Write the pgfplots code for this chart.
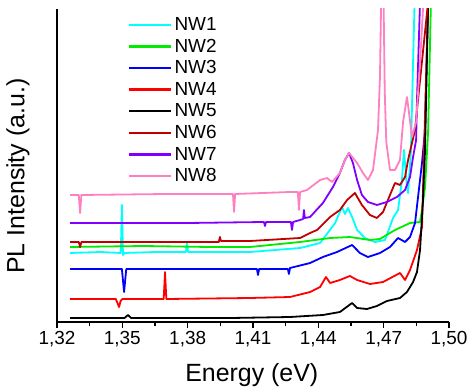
\documentclass[border=0pt]{standalone}
\usepackage{fontspec}
\setmainfont{Liberation Sans}
\usepackage{pgfplots}
\pgfplotsset{compat=1.18}
\definecolor{nwone}{RGB}{0,255,255}
\definecolor{nwtwo}{RGB}{0,235,0}
\definecolor{nwthree}{RGB}{0,0,255}
\definecolor{nwfour}{RGB}{255,0,0}
\definecolor{nwfive}{RGB}{0,0,0}
\definecolor{nwsix}{RGB}{192,0,0}
\definecolor{nwseven}{RGB}{128,0,255}
\definecolor{nweight}{RGB}{255,128,192}
\begin{document}
\begin{tikzpicture}
\path[use as bounding box] (-57bp,-70bp) rectangle (414bp,322bp);
\begin{axis}[
  at={(0,0)}, anchor=south west,
  scale only axis, width=392bp, height=313bp,
  xmin=1.32, xmax=1.50, ymin=0, ymax=313,
  axis x line*=bottom, axis y line*=left,
  axis line style={-, line width=1.6bp},
  ytick=\empty,
  xtick={1.32,1.35,1.38,1.41,1.44,1.47,1.50},
  xticklabels={{1,32},{1,35},{1,38},{1,41},{1,44},{1,47},{1,50}},
  minor xtick={1.335,1.365,1.395,1.425,1.455,1.485},
  tick align=outside, major tick length=6bp, minor tick length=3.5bp,
  every tick/.style={black, line width=1.2bp},
  xticklabel style={font=\fontsize{19}{19}\selectfont},
  xlabel={Energy (eV)},
  xlabel style={font=\fontsize{25}{25}\selectfont, at={(axis description cs:0.497,-0.169)}, anchor=center},
  ylabel={PL Intensity (a.u.)},
  ylabel style={font=\fontsize{25}{25}\selectfont, at={(axis description cs:-0.0995,0.466)}, anchor=center},
  every axis plot/.append style={line width=1.8bp, line join=round},
  legend style={draw=none, fill=none, at={(axis description cs:0.181,0.980)}, anchor=north west,
    font=\fontsize{19}{19}\selectfont, row sep=3bp, inner sep=0pt},
  legend cell align=left,
  legend image code/.code={\draw[#1, line width=2.4bp] (0bp,0bp) -- (42bp,0bp);},
]
% NW1
\addplot[nwone] coordinates {
(1.3260,69) (1.3400,70) (1.3493,69) (1.3498,117) (1.3503,67) (1.3510,69) (1.3650,70)
(1.3792,70) (1.3797,79) (1.3802,70) (1.4086,70) (1.4316,74) (1.4408,79) (1.4477,99)
(1.4509,115) (1.4522,108) (1.4536,114) (1.4555,105) (1.4578,92) (1.4614,84) (1.4660,80)
(1.4706,82) (1.4743,104) (1.4766,112) (1.4784,142) (1.4793,172) (1.4807,135) (1.4812,129)
(1.4825,170) (1.4835,260) (1.4842,320)};
% NW2
\addplot[nwtwo] coordinates {
(1.3260,75) (1.3600,76) (1.3900,75) (1.4086,75) (1.4316,80) (1.4454,84) (1.4545,85)
(1.4637,82) (1.4683,83) (1.4752,92) (1.4821,99) (1.4867,100) (1.4876,112) (1.4890,135)
(1.4904,190) (1.4917,320)};
% NW3
\addplot[nwthree] coordinates {
(1.3260,53) (1.3498,53) (1.3508,30) (1.3518,53) (1.3800,53) (1.4118,53) (1.4123,47)
(1.4128,53) (1.4260,53) (1.4265,48) (1.4270,54) (1.4362,59) (1.4421,65) (1.4486,70)
(1.4555,77) (1.4591,69) (1.4628,65) (1.4683,69) (1.4729,75) (1.4766,84) (1.4798,80)
(1.4821,85) (1.4844,99) (1.4876,159) (1.4890,192) (1.4904,320)};
% NW4
\addplot[nwfour] coordinates {
(1.3260,23) (1.3470,23) (1.3485,15) (1.3492,21) (1.3500,23) (1.3690,23) (1.3696,50)
(1.3702,23) (1.4086,24) (1.4270,25) (1.4362,30) (1.4408,35) (1.4435,45) (1.4454,39)
(1.4499,42) (1.4545,46) (1.4578,42) (1.4637,38) (1.4697,40) (1.4775,49) (1.4798,42)
(1.4821,52) (1.4853,72) (1.4876,95) (1.4904,320)};
% NW5
\addplot[nwfive] coordinates {
(1.3260,4) (1.3510,4) (1.3526,7) (1.3540,4) (1.4000,4) (1.4270,5) (1.4421,7) (1.4499,10)
(1.4555,19) (1.4578,14) (1.4623,13) (1.4669,16) (1.4715,21) (1.4775,24) (1.4807,30)
(1.4835,40) (1.4853,50) (1.4867,72) (1.4880,120) (1.4890,172) (1.4904,320)};
% NW6
\addplot[nwsix] coordinates {
(1.3260,80) (1.3300,80) (1.3306,75) (1.3312,80) (1.3943,80) (1.3948,85) (1.3953,81)
(1.4086,81) (1.4316,84) (1.4362,89) (1.4394,92) (1.4408,95) (1.4454,105) (1.4499,112)
(1.4532,122) (1.4568,129) (1.4600,117) (1.4637,107) (1.4669,104) (1.4697,110) (1.4729,127)
(1.4752,139) (1.4775,137) (1.4798,145) (1.4812,162) (1.4830,179) (1.4844,192) (1.4853,212)
(1.4904,320)};
% NW7
\addplot[nwseven] coordinates {
(1.3260,99) (1.3800,99) (1.4150,100) (1.4155,96) (1.4160,100) (1.4274,100) (1.4279,92)
(1.4284,100) (1.4316,102) (1.4330,103) (1.4334,112) (1.4338,104) (1.4362,105) (1.4421,119)
(1.4467,135) (1.4499,149) (1.4522,162) (1.4541,169) (1.4559,159) (1.4578,142) (1.4600,127)
(1.4628,120) (1.4669,117) (1.4715,120) (1.4761,125) (1.4798,132) (1.4821,145) (1.4835,165)
(1.4849,182) (1.4853,222) (1.4867,320)};
% NW8
\addplot[nweight] coordinates {
(1.3260,127) (1.3300,127) (1.3306,109) (1.3312,127) (1.3700,128) (1.4008,128) (1.4013,110)
(1.4018,128) (1.4270,130) (1.4306,130) (1.4311,112) (1.4316,130) (1.4348,132) (1.4408,142)
(1.4440,144) (1.4463,140) (1.4499,149) (1.4522,162) (1.4541,169) (1.4578,159) (1.4605,149)
(1.4628,142) (1.4651,152) (1.4674,192) (1.4683,245) (1.4689,330) (1.4699,330) (1.4705,230)
(1.4712,180) (1.4729,152) (1.4752,152) (1.4775,162) (1.4789,200) (1.4807,225) (1.4816,210)
(1.4830,185) (1.4849,200) (1.4867,260) (1.4885,330)};
\legend{NW1,NW2,NW3,NW4,NW5,NW6,NW7,NW8}
\end{axis}
\end{tikzpicture}
\end{document}
